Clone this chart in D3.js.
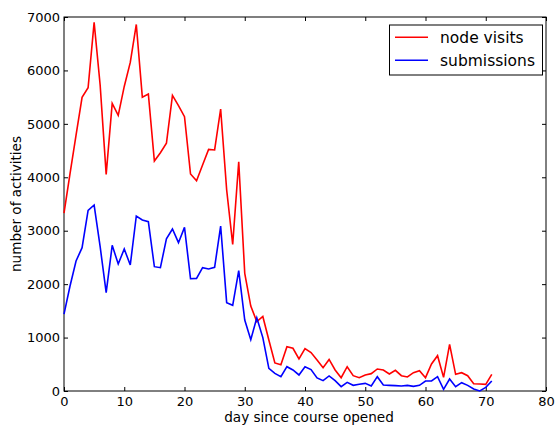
<!DOCTYPE html>
<html>
<head>
<meta charset="utf-8">
<script src="https://cdn.jsdelivr.net/npm/d3@7"></script>
<style>
  body { margin: 0; background: #fff; }
  svg { display: block; }
  text { font-family: "DejaVu Sans", sans-serif; }
</style>
</head>
<body>
<svg id="chart" width="556" height="427"></svg>
<script>
const days = d3.range(0, 72);
const nodeVisits = [
  3330, 4070, 4790, 5497, 5676, 6900, 5727, 4055, 5384, 5160,
  5700, 6150, 6860, 5500, 5560, 4305, 4460, 4636, 5534, 5340,
  5134, 4061, 3936, 4230, 4523, 4511, 5278, 3762, 2745, 4292,
  2202, 1590, 1300, 1395, 954, 525, 490, 830, 800, 599,
  795, 720, 580, 436, 590, 393, 249, 455, 287, 249,
  300, 325, 412, 393, 318, 387, 287, 262, 343, 380,
  249, 505, 661, 255, 873, 312, 343, 287, 137, 131,
  125, 312
];
const submissions = [
  1440, 1965, 2433, 2682, 3382, 3481, 2701, 1840, 2726, 2377,
  2658, 2358, 3275, 3200, 3169, 2327, 2308, 2850, 3032, 2776,
  3063, 2102, 2108, 2308, 2283, 2314, 3088, 1653, 1603, 2252,
  1329, 960, 1370, 1000, 424, 330, 268, 455, 393, 300,
  455, 400, 245, 193, 281, 193, 81, 162, 106, 125,
  143, 93, 268, 112, 106, 100, 93, 106, 87, 106,
  187, 187, 268, 31, 225, 81, 156, 106, 37, 0,
  68, 187
];
const xTicks = [0, 10, 20, 30, 40, 50, 60, 70, 80];
const yTicks = [0, 1000, 2000, 3000, 4000, 5000, 6000, 7000];
const seriesNames = ["node visits", "submissions"];
const seriesColors = ["#ff0000", "#0000ff"];

const svg = d3.select("#chart");
const m = { left: 64, right: 546, top: 17, bottom: 391 };
const x = d3.scaleLinear().domain([0, 80]).range([m.left, m.right]);
const y = d3.scaleLinear().domain([0, 7000]).range([m.bottom, m.top]);

// frame
svg.append("rect")
  .attr("x", m.left).attr("y", m.top)
  .attr("width", m.right - m.left).attr("height", m.bottom - m.top)
  .attr("fill", "none").attr("stroke", "#000").attr("stroke-width", 1);

const tickLen = 4;
// bottom axis (ticks inward)
const xAxis = svg.append("g").attr("transform", `translate(0,${m.bottom})`)
  .call(d3.axisBottom(x).tickValues(xTicks).tickSizeInner(-tickLen).tickSizeOuter(0).tickPadding(6).tickFormat(d3.format("d")));
xAxis.select(".domain").remove();
xAxis.selectAll("text").attr("font-size", 13).attr("fill", "#000").attr("font-family", "DejaVu Sans");
// top ticks
const xTop = svg.append("g").attr("transform", `translate(0,${m.top})`)
  .call(d3.axisTop(x).tickValues(xTicks).tickSizeInner(-tickLen).tickSizeOuter(0).tickFormat(""));
xTop.select(".domain").remove();

// left axis
const yAxis = svg.append("g").attr("transform", `translate(${m.left},0)`)
  .call(d3.axisLeft(y).tickValues(yTicks).tickSizeInner(-tickLen).tickSizeOuter(0).tickPadding(4).tickFormat(d3.format("d")));
yAxis.select(".domain").remove();
yAxis.selectAll("text").attr("font-size", 13).attr("fill", "#000").attr("font-family", "DejaVu Sans");
// right ticks
const yRight = svg.append("g").attr("transform", `translate(${m.right},0)`)
  .call(d3.axisRight(y).tickValues(yTicks).tickSizeInner(-tickLen).tickSizeOuter(0).tickFormat(""));
yRight.select(".domain").remove();

// lines
const line = d3.line().x((d, i) => x(days[i])).y(d => y(d));
[nodeVisits, submissions].forEach((s, k) => {
  svg.append("path").datum(s)
    .attr("d", line)
    .attr("fill", "none")
    .attr("stroke", seriesColors[k])
    .attr("stroke-width", 1.6)
    .attr("stroke-linejoin", "miter");
});

// axis labels
svg.append("text")
  .attr("x", (m.left + m.right) / 2 + 4).attr("y", 421.5)
  .attr("text-anchor", "middle").attr("font-size", 13.6)
  .text("day since course opened");
svg.append("text")
  .attr("transform", `translate(21,${(m.top + m.bottom) / 2}) rotate(-90)`)
  .attr("text-anchor", "middle").attr("font-size", 13.6)
  .text("number of activities");

// legend
const lg = svg.append("g");
lg.append("rect")
  .attr("x", 389.5).attr("y", 25).attr("width", 153).attr("height", 50)
  .attr("fill", "#fff").attr("stroke", "#000").attr("stroke-width", 1);
seriesNames.forEach((n, k) => {
  const yy = 37.3 + k * 23;
  lg.append("line").attr("x1", 395).attr("x2", 428).attr("y1", yy).attr("y2", yy)
    .attr("stroke", seriesColors[k]).attr("stroke-width", 1.6);
  lg.append("text").attr("x", 440).attr("y", yy + 6).attr("font-size", 15.5).text(n);
});
</script>
</body>
</html>
